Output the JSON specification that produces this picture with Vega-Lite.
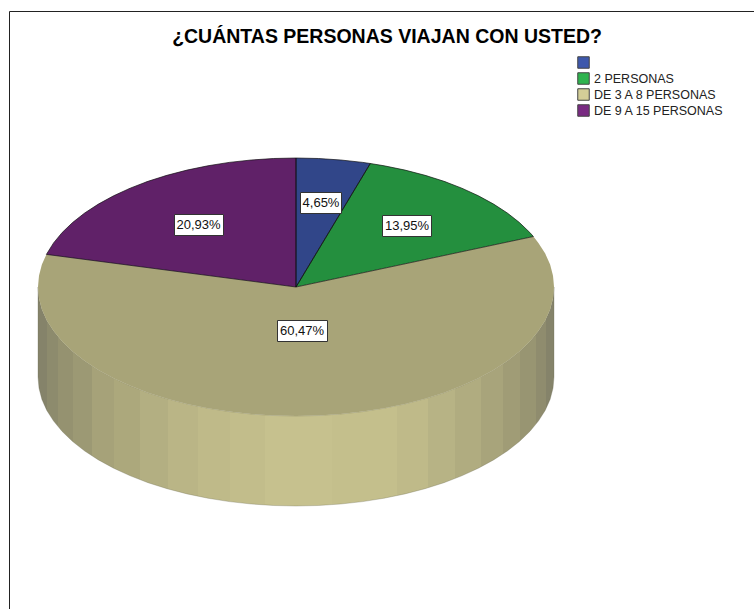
{"$schema":"https://vega.github.io/schema/vega-lite/v6.json","width":754,"height":609,"padding":0,"autosize":{"type":"none"},"background":"white","config":{"view":{"stroke":null},"font":"Liberation Sans"},
"title":{"text":"¿CUÁNTAS PERSONAS VIAJAN CON USTED?","font":"Liberation Sans","fontSize":19.5,"fontWeight":"bold","color":"#000000","anchor":"middle","frame":"group","dx":10,"dy":51},
"datasets":{
"slices":[
{"slice":" ","i":0,"x":296,"y":287},{"slice":" ","i":1,"x":296,"y":158},{"slice":" ","i":2,"x":318.5,"y":158.5},{"slice":" ","i":3,"x":340.8,"y":160},{"slice":" ","i":4,"x":362.8,"y":162.4},{"slice":" ","i":5,"x":370.3,"y":163.5},{"slice":" ","i":6,"x":296,"y":287},
{"slice":"2 PERSONAS","i":0,"x":296,"y":287},{"slice":"2 PERSONAS","i":1,"x":370.3,"y":163.5},{"slice":"2 PERSONAS","i":2,"x":384.2,"y":165.8},{"slice":"2 PERSONAS","i":3,"x":405,"y":170.1},{"slice":"2 PERSONAS","i":4,"x":425,"y":175.3},{"slice":"2 PERSONAS","i":5,"x":444,"y":181.3},{"slice":"2 PERSONAS","i":6,"x":461.8,"y":188.2},{"slice":"2 PERSONAS","i":7,"x":478.4,"y":195.8},{"slice":"2 PERSONAS","i":8,"x":493.6,"y":204.1},{"slice":"2 PERSONAS","i":9,"x":507.3,"y":213},{"slice":"2 PERSONAS","i":10,"x":519.4,"y":222.5},{"slice":"2 PERSONAS","i":11,"x":529.8,"y":232.5},{"slice":"2 PERSONAS","i":12,"x":533.4,"y":236.5},{"slice":"2 PERSONAS","i":13,"x":296,"y":287},
{"slice":"DE 3 A 8 PERSONAS","i":0,"x":296,"y":287},{"slice":"DE 3 A 8 PERSONAS","i":1,"x":533.4,"y":236.5},{"slice":"DE 3 A 8 PERSONAS","i":2,"x":538.4,"y":242.9},{"slice":"DE 3 A 8 PERSONAS","i":3,"x":545.2,"y":253.6},{"slice":"DE 3 A 8 PERSONAS","i":4,"x":550.1,"y":264.6},{"slice":"DE 3 A 8 PERSONAS","i":5,"x":553,"y":275.8},{"slice":"DE 3 A 8 PERSONAS","i":6,"x":554,"y":287},{"slice":"DE 3 A 8 PERSONAS","i":7,"x":553,"y":298.2},{"slice":"DE 3 A 8 PERSONAS","i":8,"x":550.1,"y":309.4},{"slice":"DE 3 A 8 PERSONAS","i":9,"x":545.2,"y":320.4},{"slice":"DE 3 A 8 PERSONAS","i":10,"x":538.4,"y":331.1},{"slice":"DE 3 A 8 PERSONAS","i":11,"x":529.8,"y":341.5},{"slice":"DE 3 A 8 PERSONAS","i":12,"x":519.4,"y":351.5},{"slice":"DE 3 A 8 PERSONAS","i":13,"x":507.3,"y":361},{"slice":"DE 3 A 8 PERSONAS","i":14,"x":493.6,"y":369.9},{"slice":"DE 3 A 8 PERSONAS","i":15,"x":478.4,"y":378.2},{"slice":"DE 3 A 8 PERSONAS","i":16,"x":461.8,"y":385.8},{"slice":"DE 3 A 8 PERSONAS","i":17,"x":444,"y":392.7},{"slice":"DE 3 A 8 PERSONAS","i":18,"x":425,"y":398.7},{"slice":"DE 3 A 8 PERSONAS","i":19,"x":405,"y":403.9},{"slice":"DE 3 A 8 PERSONAS","i":20,"x":384.2,"y":408.2},{"slice":"DE 3 A 8 PERSONAS","i":21,"x":362.8,"y":411.6},{"slice":"DE 3 A 8 PERSONAS","i":22,"x":340.8,"y":414},{"slice":"DE 3 A 8 PERSONAS","i":23,"x":318.5,"y":415.5},{"slice":"DE 3 A 8 PERSONAS","i":24,"x":296,"y":416},{"slice":"DE 3 A 8 PERSONAS","i":25,"x":273.5,"y":415.5},{"slice":"DE 3 A 8 PERSONAS","i":26,"x":251.2,"y":414},{"slice":"DE 3 A 8 PERSONAS","i":27,"x":229.2,"y":411.6},{"slice":"DE 3 A 8 PERSONAS","i":28,"x":207.8,"y":408.2},{"slice":"DE 3 A 8 PERSONAS","i":29,"x":187,"y":403.9},{"slice":"DE 3 A 8 PERSONAS","i":30,"x":167,"y":398.7},{"slice":"DE 3 A 8 PERSONAS","i":31,"x":148,"y":392.7},{"slice":"DE 3 A 8 PERSONAS","i":32,"x":130.2,"y":385.8},{"slice":"DE 3 A 8 PERSONAS","i":33,"x":113.6,"y":378.2},{"slice":"DE 3 A 8 PERSONAS","i":34,"x":98.4,"y":369.9},{"slice":"DE 3 A 8 PERSONAS","i":35,"x":84.7,"y":361},{"slice":"DE 3 A 8 PERSONAS","i":36,"x":72.6,"y":351.5},{"slice":"DE 3 A 8 PERSONAS","i":37,"x":62.2,"y":341.5},{"slice":"DE 3 A 8 PERSONAS","i":38,"x":53.6,"y":331.1},{"slice":"DE 3 A 8 PERSONAS","i":39,"x":46.8,"y":320.4},{"slice":"DE 3 A 8 PERSONAS","i":40,"x":41.9,"y":309.4},{"slice":"DE 3 A 8 PERSONAS","i":41,"x":39,"y":298.2},{"slice":"DE 3 A 8 PERSONAS","i":42,"x":38,"y":287},{"slice":"DE 3 A 8 PERSONAS","i":43,"x":39,"y":275.8},{"slice":"DE 3 A 8 PERSONAS","i":44,"x":41.9,"y":264.6},{"slice":"DE 3 A 8 PERSONAS","i":45,"x":46.4,"y":254.4},{"slice":"DE 3 A 8 PERSONAS","i":46,"x":296,"y":287},
{"slice":"DE 9 A 15 PERSONAS","i":0,"x":296,"y":287},{"slice":"DE 9 A 15 PERSONAS","i":1,"x":46.4,"y":254.4},{"slice":"DE 9 A 15 PERSONAS","i":2,"x":53.6,"y":242.9},{"slice":"DE 9 A 15 PERSONAS","i":3,"x":62.2,"y":232.5},{"slice":"DE 9 A 15 PERSONAS","i":4,"x":72.6,"y":222.5},{"slice":"DE 9 A 15 PERSONAS","i":5,"x":84.7,"y":213},{"slice":"DE 9 A 15 PERSONAS","i":6,"x":98.4,"y":204.1},{"slice":"DE 9 A 15 PERSONAS","i":7,"x":113.6,"y":195.8},{"slice":"DE 9 A 15 PERSONAS","i":8,"x":130.2,"y":188.2},{"slice":"DE 9 A 15 PERSONAS","i":9,"x":148,"y":181.3},{"slice":"DE 9 A 15 PERSONAS","i":10,"x":167,"y":175.3},{"slice":"DE 9 A 15 PERSONAS","i":11,"x":187,"y":170.1},{"slice":"DE 9 A 15 PERSONAS","i":12,"x":207.8,"y":165.8},{"slice":"DE 9 A 15 PERSONAS","i":13,"x":229.2,"y":162.4},{"slice":"DE 9 A 15 PERSONAS","i":14,"x":251.2,"y":160},{"slice":"DE 9 A 15 PERSONAS","i":15,"x":273.5,"y":158.5},{"slice":"DE 9 A 15 PERSONAS","i":16,"x":296,"y":158},{"slice":"DE 9 A 15 PERSONAS","i":17,"x":296,"y":287}
],
"wall":[
{"x":38,"top":287,"bottom":377},{"x":39,"top":298.2,"bottom":388.2},{"x":41.9,"top":309.4,"bottom":399.4},{"x":46.8,"top":320.4,"bottom":410.4},{"x":53.6,"top":331.1,"bottom":421.1},{"x":62.2,"top":341.5,"bottom":431.5},{"x":72.6,"top":351.5,"bottom":441.5},{"x":84.7,"top":361,"bottom":451},{"x":98.4,"top":369.9,"bottom":459.9},{"x":113.6,"top":378.2,"bottom":468.2},{"x":130.2,"top":385.8,"bottom":475.8},{"x":148,"top":392.7,"bottom":482.7},{"x":167,"top":398.7,"bottom":488.7},{"x":187,"top":403.9,"bottom":493.9},{"x":207.8,"top":408.2,"bottom":498.2},{"x":229.2,"top":411.6,"bottom":501.6},{"x":251.2,"top":414,"bottom":504},{"x":273.5,"top":415.5,"bottom":505.5},{"x":296,"top":416,"bottom":506},{"x":318.5,"top":415.5,"bottom":505.5},{"x":340.8,"top":414,"bottom":504},{"x":362.8,"top":411.6,"bottom":501.6},{"x":384.2,"top":408.2,"bottom":498.2},{"x":405,"top":403.9,"bottom":493.9},{"x":425,"top":398.7,"bottom":488.7},{"x":444,"top":392.7,"bottom":482.7},{"x":461.8,"top":385.8,"bottom":475.8},{"x":478.4,"top":378.2,"bottom":468.2},{"x":493.6,"top":369.9,"bottom":459.9},{"x":507.3,"top":361,"bottom":451},{"x":519.4,"top":351.5,"bottom":441.5},{"x":529.8,"top":341.5,"bottom":431.5},{"x":538.4,"top":331.1,"bottom":421.1},{"x":545.2,"top":320.4,"bottom":410.4},{"x":550.1,"top":309.4,"bottom":399.4},{"x":553,"top":298.2,"bottom":388.2},{"x":554,"top":287,"bottom":377}
],
"labels":[
{"label":"4,65%","x":321,"y":203,"left":300.5,"right":341.5,"up":192.5,"down":213.5},
{"label":"13,95%","x":407,"y":226,"left":382.5,"right":431.5,"up":215.5,"down":236.5},
{"label":"20,93%","x":198.5,"y":224.5,"left":174.5,"right":223.5,"up":214.5,"down":235.5},
{"label":"60,47%","x":302,"y":330.5,"left":277.5,"right":327.5,"up":320.5,"down":341.5}
]},
"layer":[
{"data":{"values":[{"x":9.5,"y":11.5,"y2":609}]},"mark":{"type":"rule","color":"#222222","strokeWidth":1},"encoding":{"x":{"field":"x","type":"quantitative","scale":{"domain":[0,754],"nice":false,"zero":false},"axis":null},"y":{"field":"y","type":"quantitative","scale":{"domain":[609,0],"nice":false,"zero":false},"axis":null},"y2":{"field":"y2"}}},
{"data":{"values":[{"x":9.5,"x2":754,"y":11.5}]},"mark":{"type":"rule","color":"#222222","strokeWidth":1},"encoding":{"x":{"field":"x","type":"quantitative"},"x2":{"field":"x2"},"y":{"field":"y","type":"quantitative"}}},
{"data":{"name":"wall"},"mark":{"type":"area","stroke":"#6a6850","strokeWidth":0.3,"color":{"gradient":"linear","x1":0,"y1":0,"x2":1,"y2":0,"stops":[
{"offset":0,"color":"#85836A"},{"offset":0.017,"color":"#85836A"},{"offset":0.017,"color":"#8D8B6D"},{"offset":0.039,"color":"#8D8B6D"},{"offset":0.039,"color":"#959270"},{"offset":0.068,"color":"#959270"},{"offset":0.068,"color":"#9C9974"},{"offset":0.105,"color":"#9C9974"},{"offset":0.105,"color":"#A6A279"},{"offset":0.147,"color":"#A6A279"},{"offset":0.147,"color":"#ACA87C"},{"offset":0.198,"color":"#ACA87C"},{"offset":0.198,"color":"#B3AF82"},{"offset":0.252,"color":"#B3AF82"},{"offset":0.252,"color":"#BAB586"},{"offset":0.31,"color":"#BAB586"},{"offset":0.31,"color":"#BFBA89"},{"offset":0.372,"color":"#BFBA89"},{"offset":0.372,"color":"#C2BD8B"},{"offset":0.44,"color":"#C2BD8B"},{"offset":0.44,"color":"#C6C18E"},{"offset":0.57,"color":"#C6C18E"},{"offset":0.57,"color":"#C4BF8C"},{"offset":0.696,"color":"#C4BF8C"},{"offset":0.696,"color":"#BFBA89"},{"offset":0.756,"color":"#BFBA89"},{"offset":0.756,"color":"#B7B385"},{"offset":0.808,"color":"#B7B385"},{"offset":0.808,"color":"#B0AC80"},{"offset":0.859,"color":"#B0AC80"},{"offset":0.859,"color":"#A8A47B"},{"offset":0.901,"color":"#A8A47B"},{"offset":0.901,"color":"#A09C76"},{"offset":0.934,"color":"#A09C76"},{"offset":0.934,"color":"#989572"},{"offset":0.965,"color":"#989572"},{"offset":0.965,"color":"#8F8C6E"},{"offset":0.984,"color":"#8F8C6E"},{"offset":0.984,"color":"#85836A"},{"offset":1,"color":"#85836A"}]}},"encoding":{"x":{"field":"x","type":"quantitative"},"y":{"field":"top","type":"quantitative"},"y2":{"field":"bottom"}}},
{"data":{"name":"slices"},"mark":{"type":"line","filled":true,"strokeWidth":0,"interpolate":"linear"},"encoding":{"x":{"field":"x","type":"quantitative"},"y":{"field":"y","type":"quantitative"},"order":{"field":"i","type":"quantitative"},"color":{"field":"slice","type":"nominal","scale":{"domain":[" ","2 PERSONAS","DE 3 A 8 PERSONAS","DE 9 A 15 PERSONAS"],"range":["#3E58AC","#2EB34E","#D3CE97","#792A82"]},"legend":{"title":null,"orient":"none","legendX":577,"legendY":56,"symbolType":"square","symbolSize":132,"symbolStrokeColor":"#444444","symbolStrokeWidth":1,"labelFont":"Liberation Sans","labelFontSize":12.5,"labelColor":"#222222","rowPadding":-1,"labelOffset":4,"padding":0}}}},
{"data":{"name":"slices"},"mark":{"type":"line","fill":"#000000","fillOpacity":0.2,"strokeWidth":0,"filled":false},"encoding":{"x":{"field":"x","type":"quantitative"},"y":{"field":"y","type":"quantitative"},"order":{"field":"i","type":"quantitative"},"detail":{"field":"slice"}}},
{"data":{"name":"slices"},"transform":[{"filter":"datum.slice !== 'DE 3 A 8 PERSONAS'"}],"mark":{"type":"line","stroke":"#111111","strokeWidth":0.8,"strokeOpacity":0.85},"encoding":{"x":{"field":"x","type":"quantitative"},"y":{"field":"y","type":"quantitative"},"order":{"field":"i","type":"quantitative"},"detail":{"field":"slice"}}},
{"data":{"name":"labels"},"mark":{"type":"rect","fill":"#ffffff","stroke":"#333333","strokeWidth":1},"encoding":{"x":{"field":"left","type":"quantitative"},"x2":{"field":"right"},"y":{"field":"up","type":"quantitative"},"y2":{"field":"down"}}},
{"data":{"name":"labels"},"mark":{"type":"text","font":"Liberation Sans","fontSize":13,"color":"#111111","align":"center","baseline":"middle"},"encoding":{"x":{"field":"x","type":"quantitative"},"y":{"field":"y","type":"quantitative"},"text":{"field":"label"}}}
]}
